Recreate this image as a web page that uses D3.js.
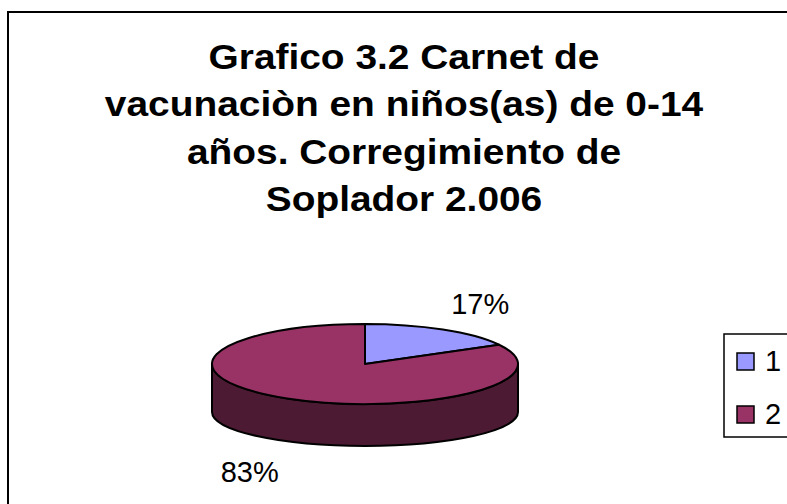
<!DOCTYPE html>
<meta charset="utf-8">
<script src="https://d3js.org/d3.v7.min.js"></script>
<style>
  body { margin: 0; background: #fff; }
  text { font-family: "Liberation Sans", Arial, sans-serif; }
</style>
<svg id="chart" width="787" height="504"></svg>
<script>

// Data
var categories = ["1", "2"];
var values = [17, 83];
var labels = ["17%", "83%"];
var titleLines = ["Grafico 3.2 Carnet de", "vacunaciòn en niños(as) de 0-14", "años. Corregimiento de", "Soplador 2.006"];

var topColors = ["#9999ff", "#993366"];
var sideColors = ["#4d4d80", "#4c1a33"];

var svg = d3.select("#chart");

// chart area border (runs off the right and bottom edge)
svg.append("rect")
    .attr("x", 8).attr("y", 12)
    .attr("width", 820).attr("height", 520)
    .attr("fill", "#fff")
    .attr("stroke", "#000")
    .attr("stroke-width", 2);

// Title
svg.append("g")
    .attr("transform", "translate(404,0) scale(1.08,1)")
  .selectAll("text")
  .data(titleLines)
  .enter().append("text")
    .attr("x", 0)
    .attr("y", (d, i) => 69 + i * 47.5)
    .attr("text-anchor", "middle")
    .attr("font-size", 36)
    .attr("font-weight", "bold")
    .text(d => d);

// 3D pie geometry
var cx = 365, cy = 364, rx = 153, ry = 40, depth = 48, ryBottom = 34;

var pie = d3.pie().sort(null).value(d => d);
var arcs = pie(values);

function pt(a, y0, r) {
  return [cx + rx * Math.sin(a), y0 - r * Math.cos(a)];
}

// side walls (only the front half, angles between PI/2 and 3PI/2)
var sides = svg.append("g");
arcs.forEach(function(d, i) {
  var a0 = Math.max(d.startAngle, Math.PI / 2);
  var a1 = Math.min(d.endAngle, 3 * Math.PI / 2);
  if (a1 <= a0) return;
  var t0 = pt(a0, cy, ry), t1 = pt(a1, cy, ry);
  var b0 = pt(a0, cy + depth, ryBottom), b1 = pt(a1, cy + depth, ryBottom);
  var p = "M" + t0 + " A" + rx + "," + ry + " 0 0 1 " + t1 +
          " L" + b1 + " A" + rx + "," + ryBottom + " 0 0 0 " + b0 + " Z";
  sides.append("path")
      .attr("d", p)
      .attr("fill", sideColors[i])
      .attr("stroke", "#000")
      .attr("stroke-width", 2)
      .attr("stroke-linejoin", "round");
});

// top faces
svg.append("g").selectAll("path")
  .data(arcs)
  .enter().append("path")
    .attr("d", function(d) {
      var s = pt(d.startAngle, cy, ry), e = pt(d.endAngle, cy, ry);
      var large = (d.endAngle - d.startAngle) > Math.PI ? 1 : 0;
      return "M" + cx + "," + cy + " L" + s + " A" + rx + "," + ry + " 0 " + large + " 1 " + e + " Z";
    })
    .attr("fill", (d, i) => topColors[i])
    .attr("stroke", "#000")
    .attr("stroke-width", 2)
    .attr("stroke-linejoin", "round");

// percent labels
svg.append("g").selectAll("text")
  .data(arcs)
  .enter().append("text")
    .attr("x", function(d) {
      var m = (d.startAngle + d.endAngle) / 2;
      return cx + rx * 1.48 * Math.sin(m);
    })
    .attr("y", function(d) {
      var m = (d.startAngle + d.endAngle) / 2;
      var y = cy - ry * 1.75 * Math.cos(m);
      if (Math.cos(m) < 0) y += depth;
      return y + 10;
    })
    .attr("text-anchor", "middle")
    .attr("font-size", 29)
    .text((d, i) => labels[i]);

// Legend
var legend = svg.append("g").attr("transform", "translate(724,334)");
legend.append("rect")
    .attr("width", 100).attr("height", 103)
    .attr("fill", "#fff")
    .attr("stroke", "#000")
    .attr("stroke-width", 1.5);

var item = legend.selectAll(".item")
  .data(categories)
  .enter().append("g")
    .attr("class", "item")
    .attr("transform", (d, i) => "translate(13," + (19 + i * 53) + ")");
item.append("rect")
    .attr("width", 17).attr("height", 17)
    .attr("fill", (d, i) => topColors[i])
    .attr("stroke", "#000")
    .attr("stroke-width", 1.5);
item.append("text")
    .attr("x", 28).attr("y", 18)
    .attr("font-size", 29)
    .text(d => d);

</script>
